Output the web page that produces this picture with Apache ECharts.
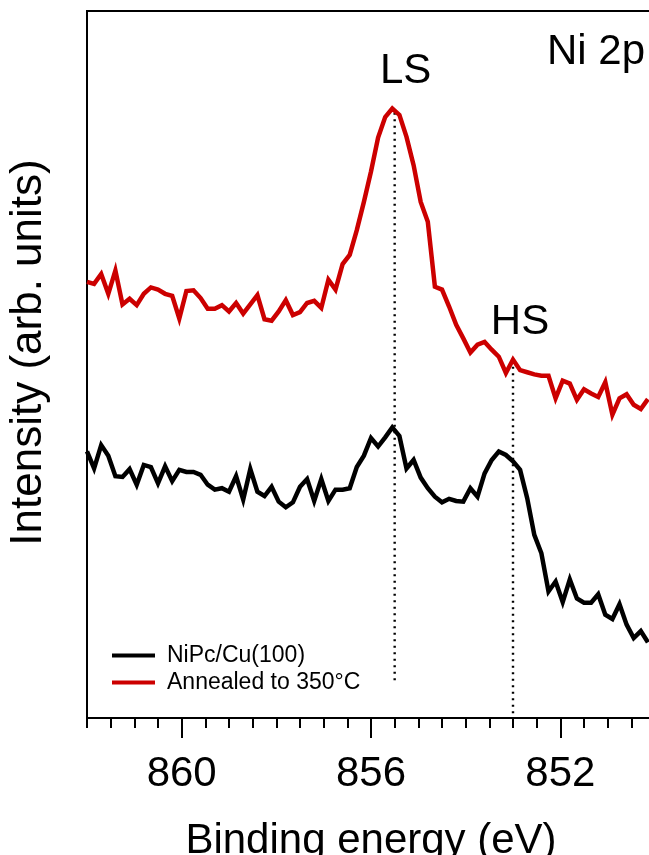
<!DOCTYPE html>
<html>
<head>
<meta charset="utf-8">
<title>Ni 2p XPS</title>
<script src="https://cdn.jsdelivr.net/npm/echarts@6/dist/echarts.min.js"></script>
<style>
  html, body { margin: 0; padding: 0; background: #fff; }
  #chart { width: 649px; height: 855px; }
</style>
</head>
<body>
<div id="chart"></div>
<script>
// Binding energies (eV) of the measured channels
const energy = [
  862.00, 861.85, 861.70, 861.55, 861.40, 861.25, 861.10, 860.95, 860.80, 860.65,
  860.50, 860.35, 860.20, 860.05, 859.90, 859.75, 859.60, 859.45, 859.30, 859.15,
  859.00, 858.85, 858.70, 858.55, 858.40, 858.25, 858.10, 857.95, 857.80, 857.65,
  857.50, 857.35, 857.20, 857.05, 856.90, 856.75, 856.60, 856.45, 856.30, 856.15,
  856.00, 855.85, 855.70, 855.55, 855.40, 855.25, 855.10, 854.95, 854.80, 854.65,
  854.50, 854.35, 854.20, 854.05, 853.90, 853.75, 853.60, 853.45, 853.30, 853.15,
  853.00, 852.85, 852.70, 852.55, 852.40, 852.25, 852.10, 851.95, 851.80, 851.65,
  851.50, 851.35, 851.20, 851.05, 850.90, 850.75, 850.60, 850.45, 850.30, 850.15
];

// As-deposited NiPc on Cu(100) (arb. units, offset)
const asDeposited = [
  37.7, 35.3, 38.6, 37.1, 34.2, 34.1, 35.2, 33.0, 35.8, 35.5,
  33.2, 35.6, 33.5, 35.1, 34.8, 34.8, 34.4, 33.0, 32.3, 32.5,
  32.0, 34.2, 30.9, 35.2, 32.0, 31.4, 32.7, 30.6, 29.8, 30.5,
  32.7, 33.8, 30.7, 33.8, 30.7, 32.3, 32.3, 32.5, 35.5, 37.1,
  39.6, 38.4, 39.7, 41.1, 39.9, 35.3, 36.5, 34.0, 32.5, 31.3,
  30.5, 31.0, 30.7, 30.6, 32.5, 31.3, 34.6, 36.5, 37.7, 37.2,
  36.3, 35.1, 31.1, 25.9, 23.3, 17.9, 19.3, 16.4, 19.6, 16.9,
  16.3, 16.3, 17.5, 14.6, 14.0, 16.1, 13.2, 11.3, 12.3, 10.7
];

// After annealing to 350 °C (arb. units, offset)
const annealed = [
  61.7, 61.4, 62.8, 60.0, 63.3, 58.5, 59.3, 58.4, 60.0, 60.9,
  60.6, 60.0, 59.7, 56.5, 60.4, 60.5, 59.4, 57.9, 57.9, 58.4,
  57.5, 58.7, 57.2, 58.5, 59.8, 56.4, 56.2, 57.5, 59.1, 57.0,
  57.4, 58.7, 59.0, 58.0, 62.0, 60.6, 64.2, 65.5, 69.0, 73.0,
  77.3, 82.1, 85.0, 86.2, 85.3, 82.2, 78.2, 73.0, 70.2, 61.0,
  60.6, 58.2, 55.6, 53.7, 51.7, 52.8, 53.2, 52.1, 51.1, 48.8,
  50.7, 49.2, 48.9, 48.6, 48.4, 48.4, 45.2, 47.7, 47.3, 45.0,
  46.5, 45.9, 45.4, 47.5, 42.9, 45.2, 45.8, 44.3, 43.7, 45.1
];

const seriesNames = ['NiPc/Cu(100)', 'Annealed to 350°C'];

// Spin-state markers: low-spin and high-spin positions
const markerNames = ['LS', 'HS'];
const markerEnergy = [855.5, 853.0];
const markerTop = [85.6, 50.6];
const markerBottom = [4.7, 0];

// Axis ticks
const majorTicks = [860, 856, 852];
const minorTicks = [
  862, 861.5, 861, 860.5, 860, 859.5, 859, 858.5, 858, 857.5, 857, 856.5,
  856, 855.5, 855, 854.5, 854, 853.5, 853, 852.5, 852, 851.5, 851, 850.5, 850
];

const FONT = '"Liberation Sans", Arial, Helvetica, sans-serif';

const chart = echarts.init(document.getElementById('chart'), null, { renderer: 'canvas' });

const pairs = (xs, ys) => xs.map((x, i) => [x, ys[i]]);

// Dotted guide lines, each labelled above its upper end
const labelDistance = [20, 16];
const labelShift = [11, 7];
const markerSeries = markerNames.map((name, i) => ({
  name: name,
  type: 'line',
  xAxisIndex: 0,
  symbol: 'circle',
  symbolSize: 1,
  showSymbol: true,
  silent: true,
  z: 1,
  itemStyle: { color: 'rgba(0,0,0,0)' },
  lineStyle: { color: '#000', width: 2.4, type: [2, 4.5] },
  data: [
    {
      value: [markerEnergy[i], markerTop[i]],
      label: {
        show: true,
        position: 'top',
        formatter: name,
        distance: labelDistance[i],
        offset: [labelShift[i], 0],
        color: '#000',
        opacity: 1,
        fontSize: 42,
        fontFamily: FONT
      }
    },
    [markerEnergy[i], markerBottom[i]]
  ]
}));

chart.setOption({
  animation: false,
  backgroundColor: '#fff',
  textStyle: { fontFamily: FONT },
  title: {
    text: 'Ni 2p',
    right: 4,
    top: 31,
    padding: 0,
    textStyle: { fontSize: 42, fontWeight: 'normal', color: '#000', fontFamily: FONT }
  },
  grid: {
    left: 87, top: 11, right: -6, bottom: 137,
    outerBoundsMode: 'none',
    containLabel: false,
    show: true, borderColor: '#000', borderWidth: 2, backgroundColor: 'transparent'
  },
  legend: {
    data: seriesNames,
    orient: 'vertical',
    left: 112,
    top: 644,
    padding: 0,
    itemGap: 4,
    icon: 'rect',
    itemWidth: 43,
    itemHeight: 4,
    textStyle: { fontSize: 23, lineHeight: 23, color: '#000', fontFamily: FONT, padding: [0, 0, 0, 7] }
  },
  xAxis: [
    {
      type: 'value',
      min: 850,
      max: 862,
      inverse: true,
      position: 'bottom',
      name: 'Binding energy (eV)',
      nameLocation: 'middle',
      nameGap: 102,
      nameTextStyle: { fontSize: 42, color: '#000', fontFamily: FONT },
      axisLine: { show: true, lineStyle: { color: '#000', width: 2 } },
      axisTick: { show: true, customValues: majorTicks, length: 20, lineStyle: { color: '#000', width: 2 } },
      axisLabel: { show: true, customValues: majorTicks, margin: 35, fontSize: 42, color: '#000', fontFamily: FONT },
      splitLine: { show: false }
    },
    {
      type: 'value',
      min: 850,
      max: 862,
      inverse: true,
      position: 'bottom',
      axisLine: { show: false },
      axisTick: { show: true, customValues: minorTicks, length: 10, lineStyle: { color: '#000', width: 2 } },
      axisLabel: { show: false },
      splitLine: { show: false }
    }
  ],
  yAxis: {
    type: 'value',
    min: 0,
    max: 100,
    name: 'Intensity (arb. units)',
    nameLocation: 'middle',
    nameRotate: 90,
    nameGap: 36,
    nameTextStyle: { fontSize: 44, color: '#000', fontFamily: FONT, padding: [0, 0, 0, 24] },
    axisLine: { show: true, lineStyle: { color: '#000', width: 2 } },
    axisTick: { show: false },
    axisLabel: { show: false },
    splitLine: { show: false }
  },
  series: [
    {
      name: seriesNames[0],
      type: 'line',
      xAxisIndex: 0,
      symbol: 'none',
      z: 3,
      color: '#000000',
      lineStyle: { color: '#000000', width: 4.5, join: 'miter' },
      data: pairs(energy, asDeposited)
    },
    {
      name: seriesNames[1],
      type: 'line',
      xAxisIndex: 0,
      symbol: 'none',
      z: 3,
      color: '#cc0000',
      lineStyle: { color: '#cc0000', width: 4.5, join: 'miter' },
      data: pairs(energy, annealed)
    },
    ...markerSeries
  ]
});
</script>
</body>
</html>
